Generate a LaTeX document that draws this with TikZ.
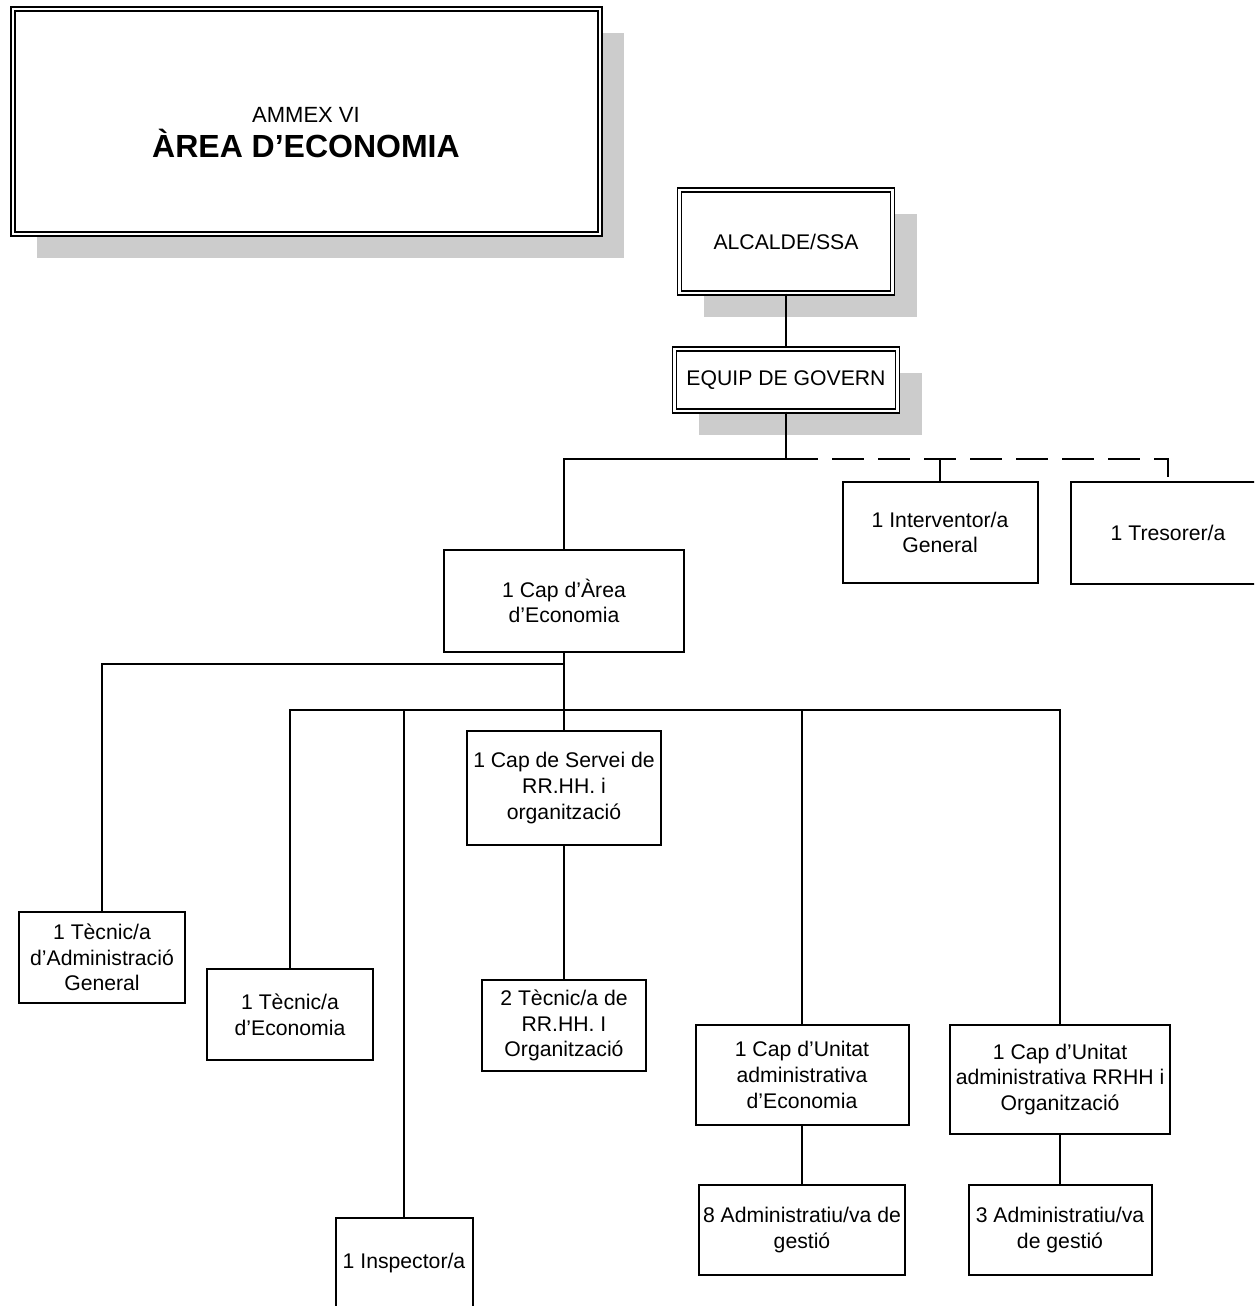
\documentclass[tikz,border=0pt]{standalone}
\usepackage{fontspec}
\setmainfont{Liberation Sans}
\usetikzlibrary{shadows}

\tikzset{
	box/.style={draw, fill=white, line width=1pt, inner sep=0pt, align=center,
		font=\fontsize{10.6}{12.8}\selectfont},
	headbox/.style={box, double, double distance=1.3pt, line width=0.7pt,
		drop shadow={shadow xshift=12pt, shadow yshift=-12pt, draw=none, fill=black!20, opacity=1}},
	link/.style={line width=1pt},
	dashlink/.style={link, dash pattern=on 16pt off 7pt},
}

\begin{document}
\begin{tikzpicture}[x=0.5pt, y=-0.5pt]

	\useasboundingbox (0,0) rectangle (1254,1306);
	\clip (0,0) rectangle (1254,1306);

	% title
	\node [headbox, minimum width=293.5pt, minimum height=112.5pt] (title) at (306.5,121.5) {};
	\node [align=center, font=\fontsize{11}{17.5}\selectfont] (titletext) at (306,133)
		{AMMEX VI\\ \fontsize{16}{17.5}\selectfont\bfseries ÀREA D’ECONOMIA};

	% govern
	\node [headbox, minimum width=106.5pt, minimum height=51.5pt] (alcalde) at (786,241.5) {ALCALDE/SSA};
	\node [headbox, minimum width=111.5pt, minimum height=31pt] (equip) at (786,380) {EQUIP DE GOVERN};

	\node [box, minimum width=97.5pt, minimum height=50.5pt] (interv) at (940,532.5) {1 Interventor/a\\General};
	\node [box, minimum width=97pt, minimum height=51pt] (tresor) at (1168,533) {1 Tresorer/a};

	\node [box, minimum width=120pt, minimum height=51pt] (caparea) at (564,601) {1 Cap d’Àrea\\d’Economia};

	% area
	\node [box, minimum width=83pt, minimum height=45.5pt] (tecadm) at (102,957.5) {1 Tècnic/a\\d’Administració\\General};
	\node [box, minimum width=83pt, minimum height=45.5pt] (tececo) at (290,1014.5) {1 Tècnic/a\\d’Economia};
	\node [box, minimum width=68.5pt, minimum height=45.5pt] (inspec) at (404,1263.5) {1 Inspector/a};
	\node [box, minimum width=97pt, minimum height=57pt] (servei) at (564,788) {1 Cap de Servei de\\RR.HH. i\\organització};
	\node [box, minimum width=82pt, minimum height=45.5pt] (tecrrhh) at (564,1025.5) {2 Tècnic/a de\\RR.HH. I\\Organització};
	\node [box, minimum width=106.5pt, minimum height=50pt] (uniteco) at (802,1075) {1 Cap d’Unitat\\administrativa\\d’Economia};
	\node [box, minimum width=103pt, minimum height=45pt] (admeco) at (802,1230) {8 Administratiu/va de\\gestió};
	\node [box, minimum width=110pt, minimum height=54.5pt] (unitrrhh) at (1060,1079.5) {1 Cap d’Unitat\\administrativa RRHH i\\Organització};
	\node [box, minimum width=91.5pt, minimum height=45pt] (admrrhh) at (1060,1230) {3 Administratiu/va\\de gestió};

	% connectors
	\draw [link] (alcalde.south) -- (equip.north);
	\draw [link] (equip.south) -- ++(0,47) coordinate (split);
	\draw [link] (split) -| (caparea.north);
	\draw [dashlink] (split) -| (tresor.north);
	\draw [dashlink] (interv.north |- split) -- (interv.north);

	\draw [link] (caparea.south) -- ++(0,11) coordinate (busa);
	\draw [link] (busa) -| (tecadm.north);
	\draw [link] (caparea.south) -- ++(0,57) coordinate (busb);
	\draw [link] (busb) -| (tececo.north);
	\draw [link] (busb) -| (inspec.north);
	\draw [link] (busb) -- (servei.north);
	\draw [link] (busb) -| (uniteco.north);
	\draw [link] (busb) -| (unitrrhh.north);

	\draw [link] (servei.south) -- (tecrrhh.north);
	\draw [link] (uniteco.south) -- (admeco.north);
	\draw [link] (unitrrhh.south) -- (admrrhh.north);
\end{tikzpicture}
\end{document}
